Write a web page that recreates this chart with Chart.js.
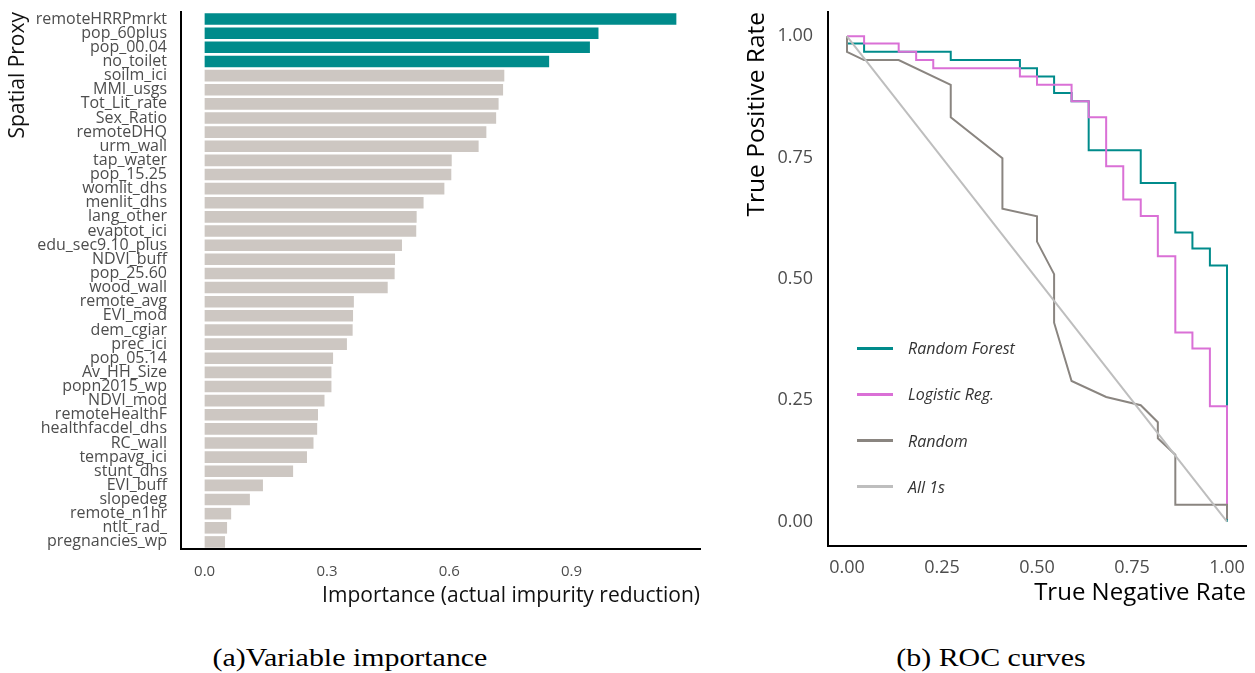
<!DOCTYPE html>
<html>
<head>
<meta charset="utf-8">
<title>Variable importance and ROC curves</title>
<script src="https://cdn.jsdelivr.net/npm/chart.js@4.4.0/dist/chart.umd.min.js"></script>
<style>
  html, body { margin: 0; padding: 0; background: #fff; }
  body { width: 1255px; height: 673px; position: relative; overflow: hidden; font-family: 'Open Sans', sans-serif; }
  .panel { position: absolute; top: 0; height: 612px; }
  #impBox { left: 0; width: 720px; }
  #rocBox { left: 740px; width: 515px; }
  .caption {
    position: absolute; top: 643px; line-height: 30px;
    font-family: 'Liberation Serif', 'Times New Roman', serif; font-size: 26px; color: #000;
    white-space: nowrap; transform: translateX(-50%) scaleX(1.15);
  }
  .leg { position: absolute; left: 857px; height: 20px; display: flex; align-items: center; }
  .leg .sw { width: 36px; height: 3px; }
  .leg .lt { margin-left: 15px; font-style: italic; font-size: 16px; color: #333; white-space: nowrap; }
</style>
</head>
<body>
<div class="panel" id="impBox"><canvas id="impChart"></canvas></div>
<div class="panel" id="rocBox"><canvas id="rocChart"></canvas></div>
<div id="legend"></div>
<div class="caption" style="left:350px">(a)Variable importance</div>
<div class="caption" style="left:991px">(b) ROC curves</div>

<script>
// ---- (a) variable importance ----
const proxies = [
  'remoteHRRPmrkt', 'pop_60plus', 'pop_00.04', 'no_toilet', 'soilm_ici', 'MMI_usgs',
  'Tot_Lit_rate', 'Sex_Ratio', 'remoteDHQ', 'urm_wall', 'tap_water', 'pop_15.25',
  'womlit_dhs', 'menlit_dhs', 'lang_other', 'evaptot_ici', 'edu_sec9.10_plus', 'NDVI_buff',
  'pop_25.60', 'wood_wall', 'remote_avg', 'EVI_mod', 'dem_cgiar', 'prec_ici',
  'pop_05.14', 'Av_HH_Size', 'popn2015_wp', 'NDVI_mod', 'remoteHealthF', 'healthfacdel_dhs',
  'RC_wall', 'tempavg_ici', 'stunt_dhs', 'EVI_buff', 'slopedeg', 'remote_n1hr',
  'ntlt_rad_', 'pregnancies_wp'
];
const importance = [
  1.157, 0.966, 0.945, 0.845, 0.735, 0.732,
  0.721, 0.715, 0.691, 0.672, 0.606, 0.605,
  0.588, 0.537, 0.520, 0.519, 0.484, 0.467,
  0.466, 0.449, 0.366, 0.364, 0.363, 0.349,
  0.315, 0.311, 0.311, 0.294, 0.278, 0.276,
  0.267, 0.251, 0.217, 0.143, 0.111, 0.065,
  0.055, 0.050
];
const highlighted = ['remoteHRRPmrkt', 'pop_60plus', 'pop_00.04', 'no_toilet'];
const impTicks = [0, 0.3, 0.6, 0.9];

// ---- (b) ROC curves: true negative rate (x) / true positive rate (y) ----
const rfTNR = [0, 0.045, 0.045, 0.273, 0.273, 0.455, 0.455, 0.5, 0.5, 0.545, 0.545, 0.591, 0.591,
  0.636, 0.636, 0.773, 0.773, 0.864, 0.864, 0.909, 0.909, 0.955, 0.955, 1, 1];
const rfTPR = [0.985, 0.985, 0.968, 0.968, 0.951, 0.951, 0.934, 0.934, 0.917, 0.917, 0.883, 0.883, 0.866,
  0.866, 0.765, 0.765, 0.698, 0.698, 0.596, 0.596, 0.563, 0.563, 0.528, 0.528, 0];

const lrTNR = [0, 0.045, 0.045, 0.136, 0.136, 0.182, 0.182, 0.227, 0.227, 0.455, 0.455, 0.5, 0.5,
  0.591, 0.591, 0.636, 0.636, 0.682, 0.682, 0.727, 0.727, 0.773, 0.773, 0.818, 0.818,
  0.864, 0.864, 0.909, 0.909, 0.955, 0.955, 1, 1];
const lrTPR = [1, 1, 0.985, 0.985, 0.968, 0.968, 0.951, 0.951, 0.934, 0.934, 0.917, 0.917, 0.9,
  0.9, 0.866, 0.866, 0.833, 0.833, 0.732, 0.732, 0.664, 0.664, 0.63, 0.63, 0.547,
  0.547, 0.39, 0.39, 0.357, 0.357, 0.238, 0.238, 0.035];

const rndTNR = [0, 0, 0.045, 0.136, 0.273, 0.273, 0.409, 0.409, 0.5, 0.5, 0.545, 0.545,
  0.591, 0.682, 0.773, 0.818, 0.818, 0.864, 0.864, 1, 1];
const rndTPR = [1, 0.968, 0.951, 0.951, 0.9, 0.833, 0.749, 0.645, 0.629, 0.577, 0.51, 0.41,
  0.29, 0.257, 0.24, 0.205, 0.172, 0.138, 0.035, 0.035, 0.005];

const allTNR = [0, 1];
const allTPR = [1, 0];

const rocTicks = [0, 0.25, 0.5, 0.75, 1];

Chart.defaults.font.family = "'Open Sans', sans-serif";
Chart.defaults.animation = false;

const TEAL = '#008B8B';
const TICK = '#4D4D4D';
const setTicks = vals => scale => { scale.ticks = vals.map(v => ({ value: v })); };
const toPoints = (xs, ys) => xs.map((x, i) => ({ x: x, y: ys[i] }));
// fixed axis box, and no extra room reserved for tick labels at the ends
const fixBox = (w, h) => s => {
  if (w) s.width = w;
  if (h) s.height = h;
  s.paddingTop = 0; s.paddingBottom = 0; s.paddingLeft = 0; s.paddingRight = 0;
};

new Chart(document.getElementById('impChart'), {
  type: 'bar',
  data: {
    labels: proxies,
    datasets: [{
      data: importance,
      backgroundColor: proxies.map(p => highlighted.includes(p) ? TEAL : '#CDC7C2'),
      borderWidth: 0,
      barPercentage: 0.82,
      categoryPercentage: 1
    }]
  },
  options: {
    indexAxis: 'y',
    responsive: true,
    maintainAspectRatio: false,
    layout: { padding: { top: 12, right: 20, left: 0, bottom: 0 } },
    plugins: { legend: { display: false }, tooltip: { enabled: false } },
    scales: {
      x: {
        type: 'linear', min: -0.058, max: 1.215,
        afterBuildTicks: setTicks(impTicks),
        afterFit: fixBox(0, 63),
        grid: { display: false, drawTicks: false },
        border: { display: true, color: '#000', width: 2 },
        ticks: { color: TICK, font: { size: 15 }, padding: 14, maxRotation: 0, autoSkip: false,
                 callback: v => v.toFixed(1) },
        title: { display: true, text: 'Importance (actual impurity reduction)', align: 'end',
                 color: '#111', font: { size: 21 }, padding: { top: 0, bottom: 3 } }
      },
      y: {
        afterFit: fixBox(181, 0),
        grid: { display: false, drawTicks: false },
        border: { display: true, color: '#000', width: 2 },
        ticks: { color: TICK, font: { size: 16 }, padding: 14, autoSkip: false },
        title: { display: true, text: 'Spatial Proxy', align: 'end',
                 color: '#111', font: { size: 21 }, padding: { top: 5, bottom: 0 } }
      }
    }
  }
});

const rocChart = new Chart(document.getElementById('rocChart'), {
  type: 'line',
  data: {
    datasets: [
      { label: 'Random Forest', data: toPoints(rfTNR, rfTPR), borderColor: TEAL, order: 3 },
      { label: 'Logistic Reg.', data: toPoints(lrTNR, lrTPR), borderColor: '#DA70D6', order: 2 },
      { label: 'Random', data: toPoints(rndTNR, rndTPR), borderColor: '#8A8580', order: 1 },
      { label: 'All 1s', data: toPoints(allTNR, allTPR), borderColor: '#BEBEBE', order: 0 }
    ]
  },
  options: {
    responsive: true,
    maintainAspectRatio: false,
    layout: { padding: { top: 12, right: 9, left: 0, bottom: 0 } },
    elements: { point: { radius: 0 }, line: { borderWidth: 2, tension: 0, fill: false } },
    plugins: { legend: { display: false }, tooltip: { enabled: false } },
    scales: {
      x: {
        type: 'linear', min: -0.05, max: 1.05,
        afterBuildTicks: setTicks(rocTicks),
        afterFit: fixBox(0, 66),
        grid: { display: false, drawTicks: false },
        border: { display: true, color: '#000', width: 2 },
        ticks: { color: TICK, font: { size: 18 }, padding: 11, maxRotation: 0, autoSkip: false,
                 callback: v => v.toFixed(2) },
        title: { display: true, text: 'True Negative Rate', align: 'end',
                 color: '#000', font: { size: 24 }, padding: { top: 0, bottom: 4 } }
      },
      y: {
        type: 'linear', min: -0.05, max: 1.05,
        afterBuildTicks: setTicks(rocTicks),
        afterFit: fixBox(88, 0),
        grid: { display: false, drawTicks: false },
        border: { display: true, color: '#000', width: 2 },
        ticks: { color: TICK, font: { size: 18 }, padding: 15, autoSkip: false,
                 callback: v => v.toFixed(2) },
        title: { display: true, text: 'True Positive Rate', align: 'end',
                 color: '#000', font: { size: 24.5 }, padding: { top: 2, bottom: 0 } }
      }
    }
  }
});

// legend sits inside the plot, built from the datasets
const legend = document.getElementById('legend');
rocChart.data.datasets.forEach((ds, i) => {
  const row = document.createElement('div');
  row.className = 'leg';
  row.style.top = (338 + i * 46.3) + 'px';
  row.innerHTML = '<span class="sw" style="background:' + ds.borderColor + '"></span><span class="lt">' + ds.label + '</span>';
  legend.appendChild(row);
});
</script>
</body>
</html>
